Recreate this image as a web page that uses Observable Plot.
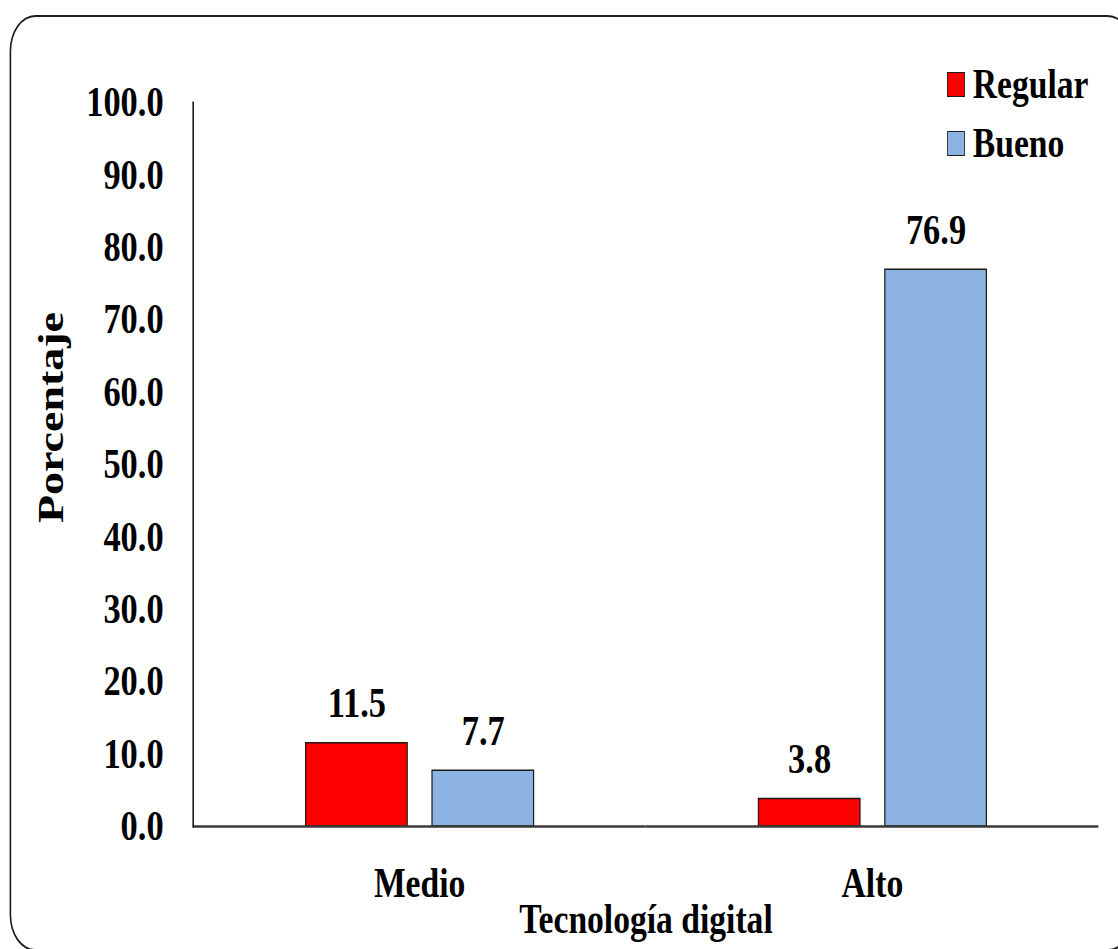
<!DOCTYPE html>
<html>
<head>
<meta charset="utf-8">
<script src="https://cdn.jsdelivr.net/npm/d3@7"></script>
<script src="https://cdn.jsdelivr.net/npm/@observablehq/plot@0.6"></script>
<style>
  html, body { margin: 0; padding: 0; background: #fff; overflow: hidden; }
  /* the whole figure is drawn wide, then condensed horizontally */
  #stage {
    position: relative; width: 1398px; height: 949px;
    transform: scaleX(0.8); transform-origin: 0 0;
    font-family: "Liberation Serif", "Times New Roman", serif;
  }
  #border {
    position: absolute; left: 12px; top: 15px; width: 1405px; height: 936px;
    border: 2px solid #1c1c1c; border-radius: 32px / 36px; box-sizing: border-box;
  }
  #chart { position: absolute; left: 0; top: 0; }
  #legend {
    position: absolute; left: 1184px; top: 63px;
    display: flex; flex-direction: column; gap: 17px;
  }
  .item { display: flex; align-items: center; height: 42px; font-weight: bold; font-size: 42px; color: #000; }
  .sw { width: 22px; height: 25px; border: 1.5px solid #1c1c1c; box-sizing: border-box; margin-right: 10px; }
</style>
</head>
<body>
<div id="stage">
  <div id="border"></div>
  <div id="chart"></div>
  <div id="legend"></div>
</div>
<script>
// Nivel de tecnología digital y porcentaje por valoración
const categories = ["Medio", "Alto"];
const series = ["Regular", "Bueno"];
const regular = [11.5, 3.8];
const bueno = [7.7, 76.9];
const colors = ["#ff0000", "#8db3e2"];
const yTicks = [0, 10, 20, 30, 40, 50, 60, 70, 80, 90, 100];
const xTitle = "Tecnología digital";
const yTitle = "Porcentaje";

const valuesBySeries = [regular, bueno];
const rows = categories.flatMap((cat, i) =>
  series.map((s, j) => ({cat, series: s, value: valuesBySeries[j][i]}))
);

const fmt = d => d.toFixed(1);

const chart = Plot.plot({
  width: 1398,
  height: 949,
  marginLeft: 241,
  marginRight: 25,
  marginTop: 102,
  marginBottom: 123,
  style: {fontFamily: '"Liberation Serif", "Times New Roman", serif', fontWeight: "bold", fontSize: "42px", color: "#000", background: "transparent"},
  fx: {domain: categories, padding: 0, label: null},
  x: {domain: series, paddingInner: 0.197, paddingOuter: 0.88, axis: null},
  y: {domain: [0, 100], axis: null},
  color: {domain: series, range: colors},
  marks: [
    Plot.barY(rows, {fx: "cat", x: "series", y: "value", fill: "series", stroke: "#1a1a1a", strokeWidth: 1.5}),
    Plot.text(rows, {fx: "cat", x: "series", y: "value", text: d => fmt(d.value), lineAnchor: "bottom", dy: -26, fontSize: 43, fill: "#000"}),
    Plot.ruleY([0], {stroke: "#3a3a3a", strokeWidth: 2.5}),
    Plot.frame({anchor: "left", facetAnchor: "left", stroke: "#1a1a1a", strokeWidth: 2}),
    Plot.axisY({ticks: yTicks, tickFormat: fmt, tickSize: 0, tickPadding: 37, fontSize: 43, label: null}),
    Plot.text([yTitle], {frameAnchor: "left", facetAnchor: "left", rotate: -90, textAnchor: "middle", lineAnchor: "top", dx: -196, dy: -47, fontSize: 46, fill: "#000"}),
    Plot.axisFx({anchor: "bottom", tickSize: 0, tickPadding: 41, fontSize: 42, label: xTitle, labelAnchor: "center", labelOffset: 106})
  ]
});
document.getElementById("chart").appendChild(chart);

// leyenda
const legend = d3.select("#legend");
series.forEach((s, i) => {
  const item = legend.append("div").attr("class", "item");
  item.append("div").attr("class", "sw").style("background", colors[i]);
  item.append("span").text(s);
});
</script>
</body>
</html>
